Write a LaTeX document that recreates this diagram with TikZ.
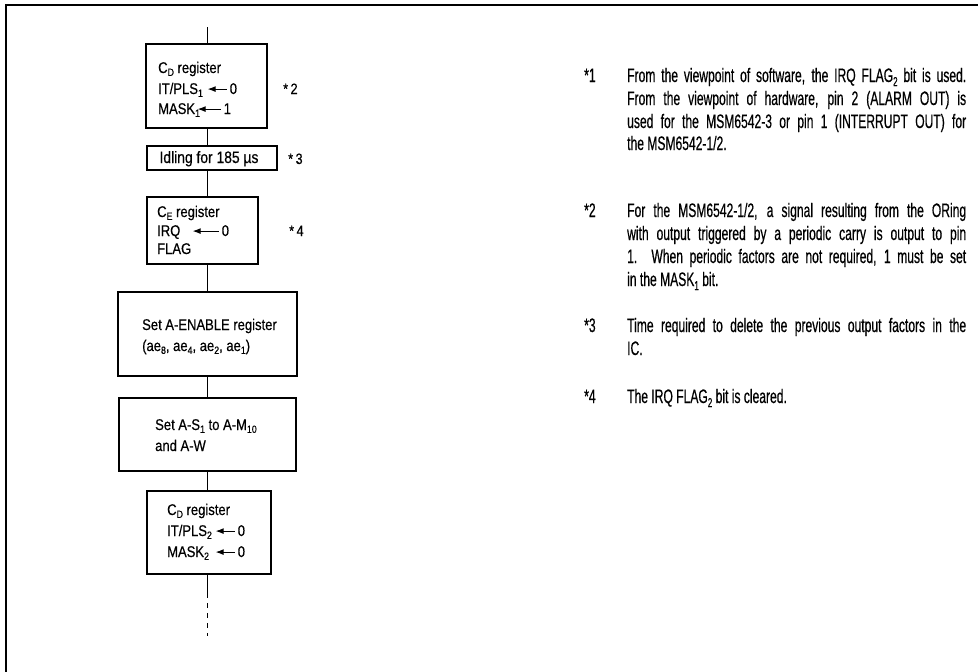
\documentclass[tikz,border=0pt]{standalone}
\usepackage{fontspec}
\setmainfont[FakeStretch=0.62,FakeBold=0.5]{Liberation Sans}
\newfontfamily\boxfont[FakeStretch=0.84,FakeBold=0.5]{Liberation Sans}
\usetikzlibrary{arrows.meta}
\newcommand\sbs[1]{\raisebox{-0.35ex}{\fontsize{10.5}{10.5}\selectfont #1}}
\newcommand\sbr[1]{\raisebox{-0.4ex}{\fontsize{13}{13}\selectfont #1}}
\newcommand\larr[1]{\tikz[baseline=-0.6ex]\draw[line width=1pt,{Latex[length=8pt,width=6pt]}-] (0pt,0pt)--(#1,0pt);}
\newcommand\jl[1]{\hbox to 339pt{#1}}
\begin{document}
\begin{tikzpicture}[x=1pt,y=-1pt,
  box/.style={draw,line width=1.5pt,inner sep=0pt},
  conn/.style={line width=1pt},
  bt/.style={anchor=base west,inner sep=0pt,font=\boxfont\fontsize{15.5}{17}\selectfont},
  rt/.style={anchor=base west,inner sep=0pt,font=\fontsize{19.5}{21}\selectfont},
  mk/.style={anchor=base west,inner sep=0pt,font=\boxfont\fontsize{15}{17}\selectfont}]
\useasboundingbox (0,0) rectangle (978,672);
% frame
\draw[line width=2.5pt] (6,672) -- (6,5) -- (978,5);
% boxes
\node[box,minimum width=121pt,minimum height=84pt] (b1) at (206.5,86) {};
\node[box,minimum width=130pt,minimum height=24pt] (b2) at (212,158) {};
\node[box,minimum width=111pt,minimum height=67pt] (b3) at (202.5,230.5) {};
\node[box,minimum width=179pt,minimum height=84pt] (b4) at (207.5,334) {};
\node[box,minimum width=177pt,minimum height=73pt] (b5) at (207.5,434.5) {};
\node[box,minimum width=124pt,minimum height=83pt] (b6) at (209,532.5) {};
% connectors
\coordinate (top) at (207,27);
\coordinate (dstart) at (207,593);
\coordinate (dend) at (207,636);
\draw[conn] (top) -- (top |- b1.north);
\draw[conn] (top |- b1.south) -- (top |- b2.north);
\draw[conn] (top |- b2.south) -- (top |- b3.north);
\draw[conn] (top |- b3.south) -- (top |- b4.north);
\draw[conn] (top |- b4.south) -- (top |- b5.north);
\draw[conn] (top |- b5.south) -- (top |- b6.north);
\draw[conn] (top |- b6.south) -- (dstart);
\draw[conn,dash pattern=on 5pt off 5pt] (dstart) -- (dend);
% box texts
\node[bt] (t11) at (158,73) {C\sbs{D} register};
\node[bt] (t12) at (158,94) {\makebox[49pt][l]{IT/PLS\sbs{1}}\larr{19pt}\,0};
\node[bt] (t13) at (158,114) {\makebox[39pt][l]{MASK\sbs{1}}\larr{23pt}\,1};
\node[bt,anchor=base] (t21) at (209,163) {\fontsize{16.5}{17}\selectfont Idling for 185 µs};
\node[bt] (t31) at (157,217) {C\sbs{E} register};
\node[bt] (t32) at (157,236) {\makebox[35pt][l]{IRQ}\larr{26pt}\,0};
\node[bt] (t33) at (157,254) {FLAG};
\node[bt] (t41) at (142,330) {Set A-ENABLE register};
\node[bt] (t42) at (142,351) {(ae\sbs{8}, ae\sbs{4}, ae\sbs{2}, ae\sbs{1})};
\node[bt] (t51) at (155,430) {Set A-S\sbs{1} to A-M\sbs{10}};
\node[bt] (t52) at (155,451) {and A-W};
\node[bt] (t61) at (167,515) {C\sbs{D} register};
\node[bt] (t62) at (167,536) {\makebox[48pt][l]{IT/PLS\sbs{2}}\larr{19pt}\,0};
\node[bt] (t63) at (167,557) {\makebox[48pt][l]{MASK\sbs{2}}\larr{19pt}\,0};
% side marks
\node[mk] (m2) at (283,94) {*\,2};
\node[mk] (m3) at (288,164) {*\,3};
\node[mk] (m4) at (289,236) {*\,4};
% notes
\node[rt] (n1) at (584,82) {*1};
\node[rt] (n11) at (627,82) {\jl{From the viewpoint of software, the IRQ FLAG\sbr{2} bit is used.}};
\node[rt] (n12) at (627,105) {\jl{From the viewpoint of hardware, pin 2 (ALARM OUT) is}};
\node[rt] (n13) at (627,128) {\jl{used for the MSM6542-3 or pin 1 (INTERRUPT OUT) for}};
\node[rt] (n14) at (627,150) {the MSM6542-1/2.};
\node[rt] (n2) at (584,217) {*2};
\node[rt] (n21) at (627,217) {\jl{For the MSM6542-1/2, a signal resulting from the ORing}};
\node[rt] (n22) at (627,240) {\jl{with output triggered by a periodic carry is output to pin}};
\node[rt] (n23) at (627,263) {\jl{1. When periodic factors are not required, 1 must be set}};
\node[rt] (n24) at (627,286) {in the MASK\sbr{1} bit.};
\node[rt] (n3) at (584,332) {*3};
\node[rt] (n31) at (627,332) {\jl{Time required to delete the previous output factors in the}};
\node[rt] (n32) at (627,355) {IC.};
\node[rt] (n4) at (584,403) {*4};
\node[rt] (n41) at (627,403) {The IRQ FLAG\sbr{2} bit is cleared.};
\end{tikzpicture}
\end{document}
